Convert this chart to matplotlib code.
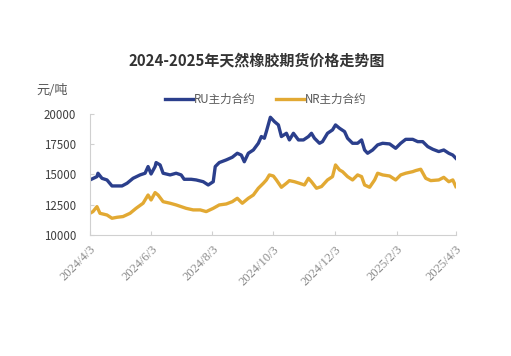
import matplotlib
matplotlib.use("Agg")
import matplotlib.pyplot as plt
import matplotlib.dates as mdates
import pandas as pd

plt.rcParams['font.family'] = ['Noto Sans CJK SC', 'DejaVu Sans']

title = "2024-2025年天然橡胶期货价格走势图"
unit_label = "元/吨"
ru_name = "RU主力合约"
nr_name = "NR主力合约"

ru_dates = ["2024-04-03", "2024-04-10", "2024-04-11", "2024-04-15", "2024-04-20", "2024-04-25",
            "2024-04-30", "2024-05-05", "2024-05-10", "2024-05-16", "2024-05-23", "2024-05-28",
            "2024-05-31", "2024-06-03", "2024-06-07", "2024-06-08", "2024-06-12", "2024-06-15",
            "2024-06-22", "2024-06-28", "2024-07-03", "2024-07-06", "2024-07-13", "2024-07-18",
            "2024-07-25", "2024-07-30", "2024-08-04", "2024-08-06", "2024-08-10", "2024-08-17",
            "2024-08-23", "2024-08-28", "2024-09-01", "2024-09-04", "2024-09-08", "2024-09-13",
            "2024-09-18", "2024-09-21", "2024-09-24", "2024-09-26", "2024-09-30", "2024-10-04",
            "2024-10-08", "2024-10-11", "2024-10-16", "2024-10-19", "2024-10-23", "2024-10-28",
            "2024-11-02", "2024-11-07", "2024-11-10", "2024-11-13", "2024-11-18", "2024-11-21",
            "2024-11-26", "2024-12-01", "2024-12-04", "2024-12-08", "2024-12-13", "2024-12-16",
            "2024-12-21", "2024-12-26", "2024-12-30", "2025-01-02", "2025-01-05", "2025-01-10",
            "2025-01-15", "2025-01-20", "2025-01-27", "2025-02-02", "2025-02-07", "2025-02-12",
            "2025-02-19", "2025-02-24", "2025-03-01", "2025-03-06", "2025-03-11", "2025-03-17",
            "2025-03-22", "2025-03-27", "2025-03-31", "2025-04-03"]
ru_values = [14545, 14820, 15100, 14680, 14545, 14050,
             14050, 14050, 14270, 14680, 14960, 15100,
             15650, 15040, 15650, 15980, 15785, 15100,
             14960, 15100, 14960, 14600, 14600, 14545,
             14400, 14130, 14400, 15650, 15980, 16200,
             16420, 16750, 16600, 16050, 16750, 17020,
             17575, 18130, 17990, 18540, 19725, 19370,
             19090, 18130, 18400, 17850, 18400, 17850,
             17850, 18130, 18400, 17990, 17575, 17710,
             18400, 18680, 19090, 18815, 18540, 17990,
             17575, 17575, 17850, 17020, 16750, 17020,
             17440, 17575, 17520, 17160, 17575, 17900,
             17900, 17710, 17710, 17300, 17080, 16890,
             17020, 16750, 16600, 16340]

nr_dates = ["2024-04-03", "2024-04-06", "2024-04-10", "2024-04-13", "2024-04-20", "2024-04-25",
            "2024-04-30", "2024-05-06", "2024-05-13", "2024-05-19", "2024-05-26", "2024-05-31",
            "2024-06-03", "2024-06-07", "2024-06-10", "2024-06-15", "2024-06-22", "2024-06-28",
            "2024-07-03", "2024-07-08", "2024-07-15", "2024-07-22", "2024-07-28", "2024-08-04",
            "2024-08-10", "2024-08-17", "2024-08-23", "2024-08-28", "2024-09-02", "2024-09-08",
            "2024-09-13", "2024-09-18", "2024-09-23", "2024-09-26", "2024-09-29", "2024-10-03",
            "2024-10-06", "2024-10-11", "2024-10-16", "2024-10-19", "2024-10-24", "2024-10-29",
            "2024-11-03", "2024-11-07", "2024-11-10", "2024-11-15", "2024-11-20", "2024-11-26",
            "2024-12-01", "2024-12-04", "2024-12-08", "2024-12-11", "2024-12-16", "2024-12-21",
            "2024-12-26", "2024-12-30", "2025-01-02", "2025-01-07", "2025-01-12", "2025-01-15",
            "2025-01-20", "2025-01-27", "2025-02-02", "2025-02-07", "2025-02-12", "2025-02-19",
            "2025-02-22", "2025-02-27", "2025-03-04", "2025-03-09", "2025-03-17", "2025-03-22",
            "2025-03-27", "2025-03-31", "2025-04-03"]
nr_values = [11790, 11930, 12340, 11790, 11650, 11380,
             11460, 11520, 11790, 12200, 12620, 13300,
             12890, 13500, 13300, 12750, 12620, 12480,
             12340, 12200, 12070, 12070, 11930, 12200,
             12480, 12560, 12750, 13030, 12620, 13030,
             13300, 13860, 14270, 14545, 14960, 14870,
             14545, 13940, 14270, 14490, 14400, 14270,
             14130, 14680, 14400, 13860, 14000, 14545,
             14820, 15785, 15370, 15230, 14820, 14545,
             14960, 14820, 14130, 13940, 14545, 15100,
             14960, 14870, 14545, 14960, 15100, 15230,
             15320, 15430, 14680, 14490, 14545, 14760,
             14400, 14545, 14000]

x_ticks = ["2024-04-03", "2024-06-03", "2024-08-03", "2024-10-03", "2024-12-03", "2025-02-03", "2025-04-03"]
x_tick_labels = ["2024/4/3", "2024/6/3", "2024/8/3", "2024/10/3", "2024/12/3", "2025/2/3", "2025/4/3"]
y_ticks = [10000, 12500, 15000, 17500, 20000]

fig = plt.figure(figsize=(5.11, 3.56), dpi=100)
fig.patch.set_facecolor("white")
ax = fig.add_axes([0.176, 0.340, 0.716, 0.340])

ru_c = "#2b3f8c"
nr_c = "#e2a933"
ax.plot(pd.to_datetime(ru_dates), ru_values, color=ru_c, lw=2.4, label=ru_name, solid_joinstyle="round")
ax.plot(pd.to_datetime(nr_dates), nr_values, color=nr_c, lw=2.4, label=nr_name, solid_joinstyle="round")

ax.set_xlim(pd.Timestamp(x_ticks[0]), pd.Timestamp(x_ticks[-1]))
ax.set_ylim(10000, 20000)
ax.set_yticks(y_ticks)
ax.set_yticklabels([str(v) for v in y_ticks], fontsize=8.3, color="#404040")
ax.set_xticks(pd.to_datetime(x_ticks))
ax.set_xticklabels(x_tick_labels, rotation=45, ha="right", rotation_mode="anchor",
                   fontsize=9, color="#8a8a8a", family=["Liberation Serif", "DejaVu Serif"])

for s in ["top", "right"]:
    ax.spines[s].set_visible(False)
for s in ["left", "bottom"]:
    ax.spines[s].set_color("#d0d0d0")
    ax.spines[s].set_linewidth(0.8)
ax.tick_params(axis="both", direction="in", length=3, color="#d0d0d0", width=0.8)
ax.tick_params(axis="y", pad=10)
ax.tick_params(axis="x", pad=6)

fig.text(0.502, 0.83, title, ha="center", va="center", fontsize=10.8, fontweight="bold", color="#333333")
fig.text(0.072, 0.745, unit_label, ha="left", va="center", fontsize=9.5, color="#595959")

leg = fig.legend(loc="center", bbox_to_anchor=(0.52, 0.72), ncol=2, frameon=False,
                 fontsize=8.3, handlelength=2.4, handletextpad=0.1, columnspacing=1.8)
for t in leg.get_texts():
    t.set_color("#595959")

fig.savefig("out.png", dpi=100, facecolor="white")
